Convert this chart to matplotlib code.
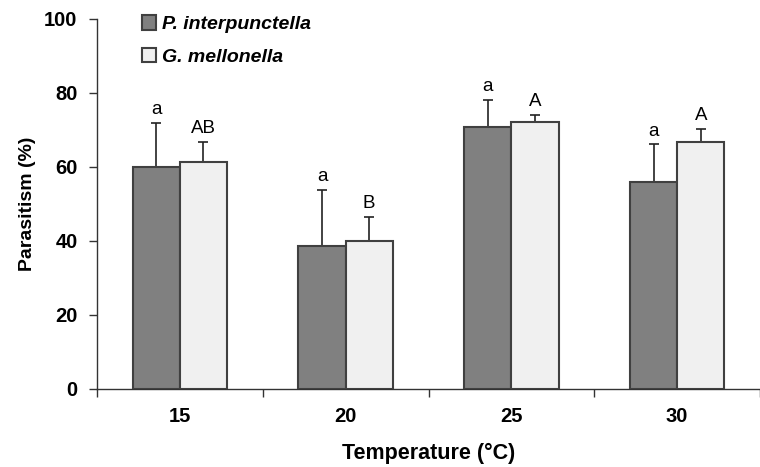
import matplotlib
matplotlib.use("Agg")
import matplotlib.pyplot as plt
import numpy as np

plt.rcParams['font.family'] = ['Liberation Sans', 'DejaVu Sans']

categories = ["15", "20", "25", "30"]
p_interp = [60.1, 38.7, 70.9, 56.0]
p_interp_err = [11.9, 15.1, 7.2, 10.1]
g_mell = [61.3, 40.0, 72.1, 66.7]
g_mell_err = [5.5, 6.6, 2.0, 3.6]
p_letters = ["a", "a", "a", "a"]
g_letters = ["AB", "B", "A", "A"]
series_names = ["P. interpunctella", "G. mellonella"]

fig = plt.figure(figsize=(7.6, 4.67), dpi=100)
ax = fig.add_axes([97/760, 78/467, 1 - 97/760, (389-19)/467])

x = np.arange(len(categories))
w = 0.285
edge = "#404040"
ax.bar(x - w/2, p_interp, w, color="#808080", edgecolor=edge, linewidth=1.5,
       label=series_names[0], zorder=3)
ax.bar(x + w/2, g_mell, w, color="#f0f0f0", edgecolor=edge, linewidth=1.5,
       label=series_names[1], zorder=3)
ax.errorbar(x - w/2, p_interp, yerr=[np.zeros(4), p_interp_err], fmt="none",
            ecolor="#222222", elinewidth=1.2, capsize=3.5, capthick=1.2, zorder=2)
ax.errorbar(x + w/2, g_mell, yerr=[np.zeros(4), g_mell_err], fmt="none",
            ecolor="#222222", elinewidth=1.2, capsize=3.5, capthick=1.2, zorder=2)

for i in range(len(categories)):
    ax.text(x[i] - w/2, p_interp[i] + p_interp_err[i] + 1.3, p_letters[i],
            ha="center", va="bottom", fontsize=13.5)
    ax.text(x[i] + w/2, g_mell[i] + g_mell_err[i] + 1.3, g_letters[i],
            ha="center", va="bottom", fontsize=13.5)

ax.set_xlim(-0.5, (760 - 181) / 168)
ax.set_ylim(0, 100)
ax.set_yticks([0, 20, 40, 60, 80, 100])
ax.set_xticks(np.arange(-0.5, 4, 1), minor=False)
ax.set_xticklabels([])
ax.set_xticks(x, minor=True)
ax.set_xticklabels(categories, minor=True)
ax.tick_params(axis="x", which="minor", length=0, pad=13, labelsize=14.5)
ax.tick_params(axis="x", which="major", length=6, direction="out", width=1, color="#333333")
ax.tick_params(axis="y", length=6, direction="out", width=1, labelsize=14.5,
               color="#333333", pad=8)
for lab in ax.get_yticklabels() + ax.get_xticklabels(minor=True):
    lab.set_fontweight("bold")

ax.spines["top"].set_visible(False)
ax.spines["right"].set_visible(False)
for s in ["left", "bottom"]:
    ax.spines[s].set_color("#333333")
    ax.spines[s].set_linewidth(1)

ax.set_ylabel("Parasitism (%)", fontsize=14, fontweight="bold", labelpad=6)
ax.set_xlabel("Temperature (\u00b0C)", fontsize=15.5, fontweight="bold", labelpad=12)

ax.legend(loc="upper left", bbox_to_anchor=(0.041, 1.057), frameon=False,
          handlelength=0.75, handleheight=0.75, handletextpad=0.3,
          labelspacing=0.75, prop={"size": 14, "weight": "bold", "style": "italic"})

fig.savefig("out.png", dpi=100)
